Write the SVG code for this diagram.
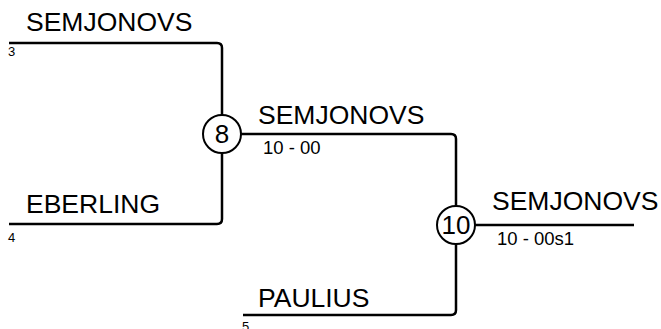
<svg xmlns="http://www.w3.org/2000/svg" width="661" height="329" viewBox="0 0 661 329">
<style>
.ln{fill:none;stroke:#000;stroke-width:2.5}
.nm{font-family:"Liberation Sans",Arial,sans-serif;font-size:26.5px;fill:#000}
.sd{font-family:"Liberation Sans",Arial,sans-serif;font-size:13px;fill:#000}
.sc{font-family:"Liberation Sans",Arial,sans-serif;font-size:18.5px;fill:#000}
.ci{fill:#fff;stroke:#000;stroke-width:2}
.cn{font-family:"Liberation Sans",Arial,sans-serif;font-size:26px;fill:#000;text-anchor:middle}
</style>
<rect width="661" height="329" fill="#fff"/>
<g id="connectors">
<path class="ln" d="M9,43 H217 Q222,43 222,48 V219 Q222,224 217,224 H9"/>
<path class="ln" d="M222,134 H451 Q456,134 456,139 V310 Q456,315 451,315 H243"/>
<path class="ln" d="M456,225 H634"/>
</g>
<g id="p3">
<text class="nm" x="26" y="31">SEMJONOVS</text>
<text class="sd" x="8" y="56">3</text>
</g>
<g id="p4">
<text class="nm" x="26" y="213">EBERLING</text>
<text class="sd" x="8" y="242">4</text>
</g>
<g id="p5">
<text class="nm" x="258" y="307">PAULIUS</text>
<text class="sd" x="242" y="331">5</text>
</g>
<g id="m8">
<circle class="ci" cx="222" cy="134" r="19"/>
<text class="cn" x="222" y="143">8</text>
<text class="nm" x="258" y="124">SEMJONOVS</text>
<text class="sc" x="263" y="154">10 - 00</text>
</g>
<g id="m10">
<circle class="ci" cx="456" cy="225" r="19"/>
<text class="cn" x="456" y="234">10</text>
<text class="nm" x="492" y="210">SEMJONOVS</text>
<text class="sc" x="497" y="245">10 - 00s1</text>
</g>
</svg>
